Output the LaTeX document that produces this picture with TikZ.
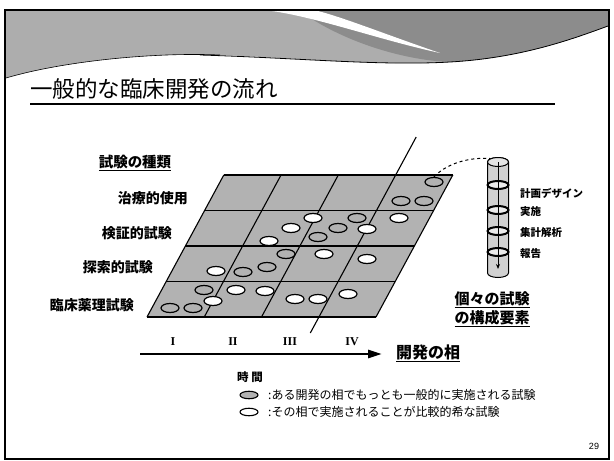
\documentclass[tikz,border=0pt]{standalone}
\usepackage{fontspec}
\setmainfont{Liberation Sans}
\newfontfamily\jp{Noto Sans CJK JP}
\newfontfamily\romanfont{Liberation Serif}
\usetikzlibrary{arrows.meta,shapes.geometric}
\tikzset{
  gridfill/.style={fill=black!30},
  gline/.style={line width=1.1pt},
  common/.style={ellipse, draw, line width=1.2pt, minimum width=18pt, minimum height=9pt, inner sep=0pt},
  rare/.style={common, fill=white},
  rowlbl/.style={font=\jp\bfseries\fontsize{14}{14}\selectfont, anchor=east, inner sep=0pt},
  steplbl/.style={font=\jp\bfseries\fontsize{10.5}{10.5}\selectfont, anchor=west, inner sep=0pt},
  headlbl/.style={font=\jp\bfseries\fontsize{14.5}{16}\selectfont, inner sep=0pt},
  numlbl/.style={font=\romanfont\bfseries\fontsize{12}{12}\selectfont, inner sep=0pt},
  legtext/.style={font=\jp\fontsize{12}{12}\selectfont, anchor=west, inner sep=0pt},
  legell/.style={ellipse, draw, line width=1.1pt, minimum width=18pt, minimum height=7.5pt, inner sep=0pt},
  disc/.style={ellipse, draw, line width=2pt, fill=black!8, minimum width=21pt, minimum height=8pt, inner sep=0pt}
}
\begin{document}
\begin{tikzpicture}[x=1pt,y=-1pt]
\useasboundingbox (0,0) rectangle (614,461);
% header band
\fill[black!32] (6,11) -- (608,11) -- (608,26) .. controls (570,40) and (520,58) .. (450,62)
   .. controls (380,66) and (300,58) .. (220,55) .. controls (150,52) and (60,62) .. (6,78) -- cycle;
\fill[black!45] (300,11) -- (608,11) -- (608,26) .. controls (570,40) and (520,58) .. (450,62)
   .. controls (400,60) and (340,40) .. (300,11) -- cycle;
\fill[white] (272,11) .. controls (320,18) and (380,40) .. (440,53)
   .. controls (390,36) and (345,18) .. (318,11) -- cycle;
\draw[line width=0.8pt] (200,55) .. controls (300,58) and (380,66) .. (450,62) .. controls (520,58) and (570,40) .. (608,26);
\draw[line width=0.6pt] (6,78) .. controls (60,62) and (150,52) .. (220,55);
% frame
\draw[line width=1.6pt] (5,10) rectangle (609,459);
% title
\node[anchor=base west, inner sep=0pt, font=\jp\fontsize{22.5}{22.5}\selectfont] (title) at (30,97) {一般的な臨床開発の流れ};
\draw[line width=2pt] (30,104) -- (555,104);
% grid
\fill[gridfill] (147,317) -- (376,317) -- (452.8,175) -- (223.8,175) -- cycle;
\foreach \r in {0,...,4} \draw[gline] ({147+19.2*\r},{317-35.5*\r}) -- ++(229,0);
\foreach \c in {0,1,2,4} \draw[gline] ({147+57.25*\c},317) -- ++(76.8,-142);
\draw[gline] (310.3,333) -- (416.2,137);
% ellipses
\node[common] (eTop) at (434,182) {};
\foreach \x/\y [count=\i] in {401/201,424/201,318/237,338/228,357/218,286/254,243/272,267/267,204/290,170/308,193/308}
  \node[common] (c\i) at (\x,\y) {};
\foreach \x/\y [count=\i] in {313/218,291/228,269/241,367/229,399/218,324/254,367/259,216/271,236/290,265/291,213/301,295/299,318/299,348/294}
  \node[rare] (r\i) at (\x,\y) {};
% row labels
\node[headlbl] (types) at (135,163) {\underline{試験の種類}};
\node[rowlbl] (l1) at (188,198) {治療的使用};
\node[rowlbl] (l2) at (172,233) {検証的試験};
\node[rowlbl] (l3) at (153,267) {探索的試験};
\node[rowlbl] (l4) at (134,305) {臨床薬理試験};
% phases
\node[numlbl] (p1) at (173,342) {I};
\node[numlbl] (p2) at (233,342) {II};
\node[numlbl] (p3) at (290,342) {III};
\node[numlbl] (p4) at (352,342) {IV};
\coordinate (arrL) at (140,354);
\coordinate (arrR) at (382,354);
\draw[line width=2.8pt, -{Triangle[length=14pt,width=8pt]}] (arrL) -- (arrR);
\node[headlbl, anchor=west, font=\jp\bfseries\fontsize{16}{16}\selectfont] (phase) at (396,353) {\underline{開発の相}};
\node[font=\jp\bfseries\fontsize{11.5}{11.5}\selectfont, inner sep=0pt] (time) at (250,377) {時\ 間};
% cylinder
\coordinate (cyltop) at (490,158.5);
\path[fill=black!18, draw, line width=1pt] (487.5,162) -- (487.5,273)
   arc[start angle=180, end angle=360, x radius=10.5pt, y radius=4.5pt] -- (508.5,162)
   arc[start angle=0, end angle=180, x radius=10.5pt, y radius=4.5pt] -- cycle;
\draw[line width=1pt, fill=black!10] (498,162) ellipse [x radius=10.5pt, y radius=4.5pt];
\foreach \y [count=\i] in {185,210,231,252} \node[disc] (d\i) at (498,\y) {};
\draw[line width=1pt, -{Stealth[length=5pt,width=4pt]}] (498,162) -- (498,269);
\draw[dashed, line width=1pt] (eTop.north) .. controls (446,164) and (468,157) .. (cyltop);
\node[steplbl] (s1) at (520,193) {計画デザイン};
\node[steplbl] (s2) at (520,212) {実施};
\node[steplbl] (s3) at (520,233) {集計解析};
\node[steplbl] (s4) at (520,254) {報告};
\node[headlbl, align=center, font=\jp\bfseries\fontsize{15}{19}\selectfont] (comp) at (492,309) {\underline{個々の試験}\\\underline{の構成要素}};
% legend
\node[legell, fill=black!30] (lg1) at (249,395) {};
\node[legell, fill=white] (lg2) at (249,412) {};
\node[legtext] (lt1) at (268,395) {:ある開発の相でもっとも一般的に実施される試験};
\node[legtext] (lt2) at (268,412) {:その相で実施されることが比較的希な試験};
\node[font=\fontsize{9}{9}\selectfont, inner sep=0pt] (pg) at (594,446) {29};
\end{tikzpicture}
\end{document}
